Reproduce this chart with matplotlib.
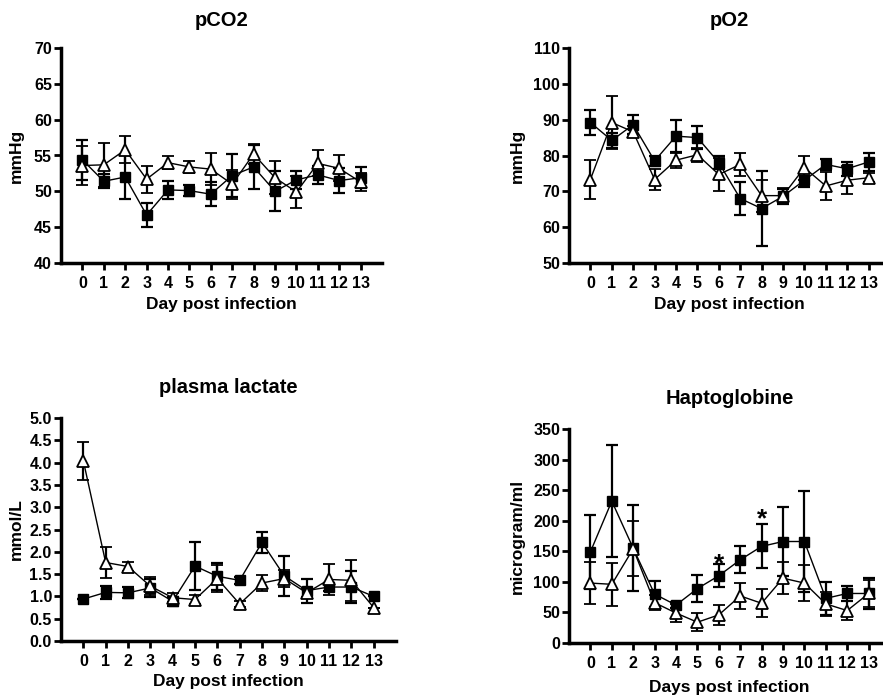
import matplotlib
matplotlib.use("Agg")
import matplotlib.pyplot as plt
import numpy as np

plt.rcParams['font.family'] = ['Liberation Sans', 'DejaVu Sans']
plt.rcParams['font.weight'] = 'bold'

days = list(range(14))
day_labels = [str(d) for d in days]

# pCO2 (mmHg)
pco2_sq = [54.4, 51.4, 52.0, 46.7, 50.2, 50.1, 49.6, 52.2, 53.4, 50.0, 51.6, 52.3, 51.5, 51.9]
pco2_sq_err = [2.8, 1.0, 3.1, 1.7, 1.2, 0.8, 1.7, 3.0, 3.1, 2.8, 1.3, 1.3, 1.8, 1.5]
pco2_tr = [53.6, 53.7, 55.8, 51.7, 54.0, 53.4, 53.1, 51.0, 55.2, 51.9, 49.9, 53.9, 53.2, 51.3]
pco2_tr_err = [2.7, 3.1, 1.9, 1.9, 0.9, 0.9, 2.2, 2.0, 1.4, 2.3, 2.2, 1.8, 1.8, 1.2]

# pO2 (mmHg)
po2_sq = [89.2, 84.2, 88.6, 78.5, 85.4, 85.0, 78.0, 68.0, 65.2, 68.6, 73.1, 77.5, 76.3, 78.2]
po2_sq_err = [3.6, 2.0, 2.6, 1.5, 4.4, 3.2, 1.9, 4.7, 10.5, 2.0, 1.9, 1.6, 1.9, 2.6]
po2_tr = [73.3, 89.2, 86.6, 73.3, 78.7, 80.2, 74.7, 77.5, 68.8, 68.8, 76.6, 71.5, 73.1, 73.8]
po2_tr_err = [5.4, 7.4, 1.5, 3.0, 2.1, 2.0, 4.7, 3.2, 4.5, 2.0, 3.4, 3.8, 3.9, 1.2]

# plasma lactate (mmol/L)
lac_sq = [0.94, 1.09, 1.08, 1.19, 0.89, 1.68, 1.45, 1.36, 2.21, 1.46, 1.13, 1.21, 1.21, 1.00]
lac_sq_err = [0.0, 0.15, 0.12, 0.2, 0.1, 0.54, 0.3, 0.08, 0.24, 0.45, 0.27, 0.1, 0.35, 0.0]
lac_tr = [4.04, 1.76, 1.67, 1.23, 0.97, 0.93, 1.40, 0.83, 1.30, 1.40, 1.08, 1.38, 1.36, 0.75]
lac_tr_err = [0.42, 0.35, 0.1, 0.2, 0.1, 0.1, 0.3, 0.07, 0.17, 0.2, 0.1, 0.34, 0.46, 0.0]

# Haptoglobine (microgram/ml)
hap_sq = [149, 232, 155, 80, 62, 89, 110, 136, 158, 166, 166, 73, 81, 81]
hap_sq_err = [61, 92, 70, 21, 5, 22, 19, 22, 36, 57, 83, 27, 12, 26]
hap_tr = [98, 96, 154, 66, 49, 34, 46, 77, 65, 106, 98, 64, 53, 81]
hap_tr_err = [35, 35, 45, 12, 14, 15, 16, 21, 23, 26, 29, 20, 15, 22]

W, H = 883, 695
fig = plt.figure(figsize=(W / 100, H / 100), dpi=100)


def px_axes(left, top, right, bottom):
    return fig.add_axes([left / W, 1 - bottom / H, (right - left) / W, (bottom - top) / H])


def panel(ax, sq, sq_err, tr, tr_err, ylim, yticks, ytlabels, title, ylabel, xlabel,
          title_pad, xlabel_pad, ylabel_x):
    ax.errorbar(days, sq, yerr=sq_err, color='black', lw=1.0, elinewidth=1.6,
                capsize=4, capthick=1.6, marker='s', markersize=6.5,
                markerfacecolor='black', markeredgecolor='black', zorder=3)
    ax.errorbar(days, tr, yerr=tr_err, color='black', lw=1.0, elinewidth=1.6,
                capsize=4, capthick=1.6, marker='^', markersize=8,
                markerfacecolor='white', markeredgecolor='black', markeredgewidth=1.3,
                zorder=4)
    ax.set_xlim(-1, 14)
    ax.set_ylim(*ylim)
    ax.set_yticks(yticks)
    ax.set_yticklabels(ytlabels)
    ax.set_xticks(days)
    ax.set_xticklabels(day_labels)
    for s in ('top', 'right'):
        ax.spines[s].set_visible(False)
    for s in ('left', 'bottom'):
        ax.spines[s].set_linewidth(2.5)
    ax.tick_params(axis='both', direction='out', width=2.0, length=5, labelsize=11.5,
                   pad=1.5)
    ax.tick_params(axis='x', pad=4)
    for lbl in ax.get_xticklabels() + ax.get_yticklabels():
        lbl.set_fontweight('bold')
    ax.set_title(title, fontsize=14.5, fontweight='bold', pad=title_pad)
    ax.set_xlabel(xlabel, fontsize=12.5, fontweight='bold', labelpad=xlabel_pad)
    ax.set_ylabel(ylabel, fontsize=12.5, fontweight='bold')
    ax.yaxis.set_label_coords(ylabel_x, 0.5)


ax1 = px_axes(61, 48, 382, 263)
panel(ax1, pco2_sq, pco2_sq_err, pco2_tr, pco2_tr_err, (40, 70),
      [40, 45, 50, 55, 60, 65, 70], ['40', '45', '50', '55', '60', '65', '70'],
      'pCO2', 'mmHg', 'Day post infection', 16, 5, -0.115)

ax2 = px_axes(569, 48, 890, 263)
panel(ax2, po2_sq, po2_sq_err, po2_tr, po2_tr_err, (50, 110),
      [50, 60, 70, 80, 90, 100, 110], ['50', '60', '70', '80', '90', '100', '110'],
      'pO2', 'mmHg', 'Day post infection', 16, 5, -0.137)

ax3 = px_axes(61, 418, 396, 641)
panel(ax3, lac_sq, lac_sq_err, lac_tr, lac_tr_err, (0, 5),
      list(np.arange(0, 5.01, 0.5)), ['%.1f' % v for v in np.arange(0, 5.01, 0.5)],
      'plasma lactate', 'mmol/L', 'Day post infection', 18, 4, -0.11)

ax4 = px_axes(569, 429, 890, 643)
panel(ax4, hap_sq, hap_sq_err, hap_tr, hap_tr_err, (0, 350),
      [0, 50, 100, 150, 200, 250, 300, 350], ['0', '50', '100', '150', '200', '250', '300', '350'],
      'Haptoglobine', 'microgram/ml', 'Days post infection', 18, 7, -0.137)

# significance markers
ax4.text(6, 128, '*', ha='center', va='center', fontsize=19, fontweight='bold')
ax4.text(8, 203, '*', ha='center', va='center', fontsize=19, fontweight='bold')

fig.savefig('out.png', dpi=100)
